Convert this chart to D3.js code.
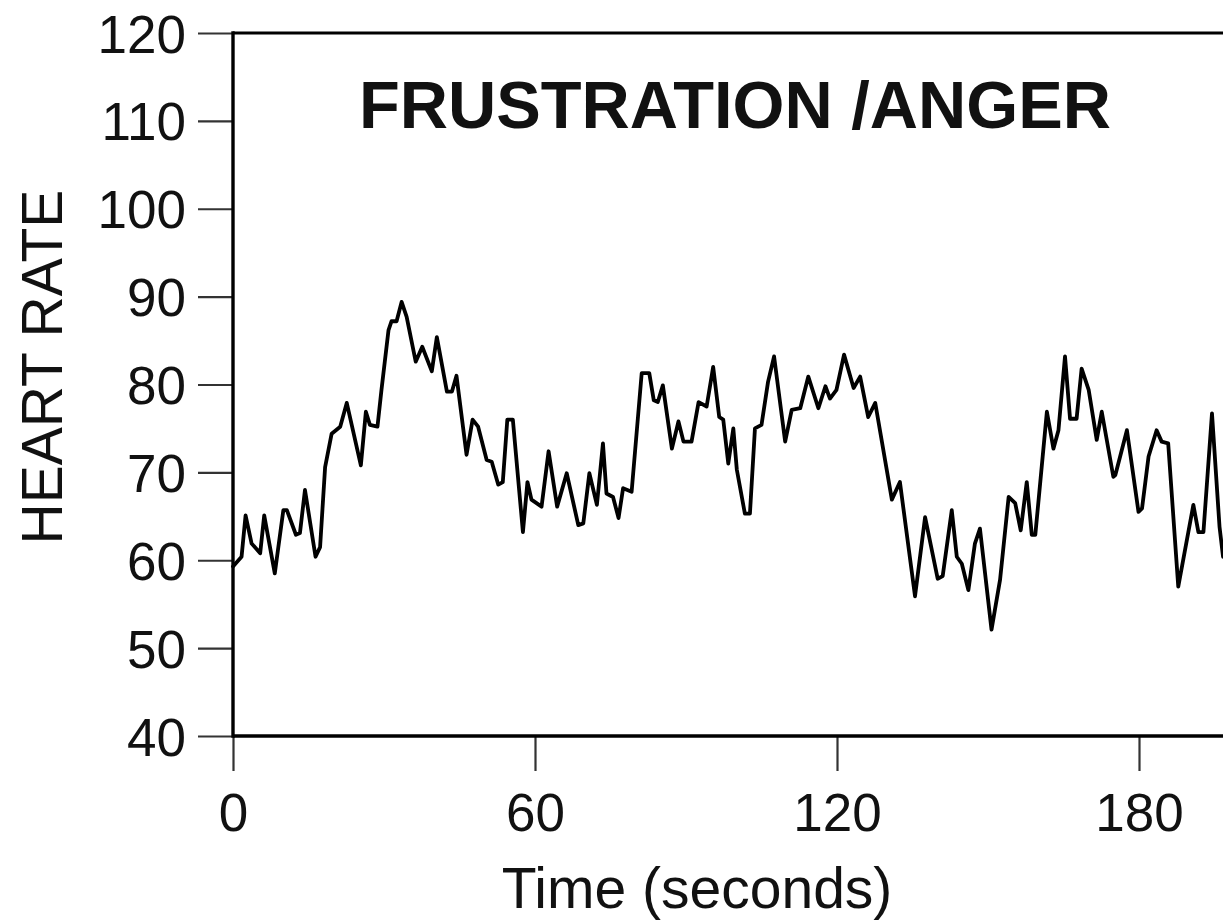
<!DOCTYPE html>
<html>
<head>
<meta charset="utf-8">
<script src="https://cdn.jsdelivr.net/npm/d3@7"></script>
<style>
  html, body { margin: 0; padding: 0; background: #fff; }
  svg { display: block; font-family: "Liberation Sans", Arial, Helvetica, sans-serif; }
</style>
</head>
<body>
<svg id="chart" width="1223" height="921"></svg>
<script>
// ---- data ----
const timeSeconds = [0, 1.7, 2.5, 3.7, 5.4, 6.2, 8.3, 10, 10.7, 12.5, 13.3, 14.3, 16.4, 17.3, 18.3, 19.6, 21.3, 22.6, 25.4, 26.4, 27.2, 28.7, 29.5, 30.9, 31.5, 32.5, 33.5, 34.5, 36.3, 37.6, 39.5, 40.5, 42.5, 43.5, 44.4, 46.4, 47.6, 48.7, 50.4, 51.4, 52.7, 53.6, 54.5, 55.6, 57.6, 58.5, 59.3, 61.3, 62.7, 64.4, 66.3, 68.6, 69.6, 70.8, 72.3, 73.5, 74.2, 75.5, 76.6, 77.5, 79.2, 81.2, 82.7, 83.6, 84.4, 85.4, 87.2, 88.5, 89.5, 91.1, 92.5, 94.1, 95.4, 96.6, 97.4, 98.4, 99.4, 100.1, 101.7, 102.7, 103.7, 105, 106.3, 107.5, 109.7, 111, 112.7, 114.3, 116.3, 117.7, 118.6, 119.9, 121.4, 123.3, 124.6, 126.2, 127.6, 130.9, 132.5, 135.5, 137.5, 140, 141, 142.8, 143.8, 144.8, 146.1, 147.4, 148.4, 150.7, 152.4, 154.1, 155.4, 156.5, 157.7, 158.7, 159.4, 161.7, 163, 164, 165.3, 166.3, 167.6, 168.6, 170, 171.6, 172.6, 174.9, 175.3, 177.6, 179.9, 180.6, 181.9, 183.5, 184.5, 185.8, 187.8, 190.8, 191.8, 192.8, 194.5, 196, 196.7];
const heartRate = [59.3, 60.4, 65.1, 61.9, 60.8, 65.1, 58.5, 65.7, 65.7, 62.9, 63.1, 68, 60.4, 61.5, 70.6, 74.4, 75.2, 77.9, 70.8, 76.9, 75.4, 75.2, 79.4, 86.2, 87.2, 87.2, 89.4, 87.7, 82.6, 84.3, 81.5, 85.4, 79.2, 79.2, 81, 72, 76, 75.2, 71.4, 71.2, 68.6, 68.9, 76, 76, 63.2, 68.9, 66.9, 66.1, 72.4, 66.1, 69.9, 64, 64.2, 69.9, 66.3, 73.3, 67.6, 67.2, 64.8, 68.2, 67.8, 81.3, 81.3, 78.2, 78, 79.9, 72.7, 75.8, 73.5, 73.5, 78, 77.5, 82, 76.3, 76, 71, 75, 70.3, 65.3, 65.3, 75, 75.4, 80.3, 83.2, 73.5, 77.1, 77.3, 80.9, 77.3, 79.8, 78.4, 79.4, 83.4, 79.6, 80.9, 76.3, 77.9, 66.9, 68.9, 55.9, 64.9, 57.9, 58.2, 65.7, 60.4, 59.6, 56.6, 61.9, 63.6, 52.1, 57.8, 67.2, 66.5, 63.4, 68.9, 62.9, 62.9, 76.9, 72.7, 74.8, 83.2, 76.1, 76.1, 81.8, 79.4, 73.7, 76.9, 69.5, 69.7, 74.8, 65.5, 65.9, 71.8, 74.8, 73.5, 73.3, 57, 66.3, 63.2, 63.2, 76.7, 63.8, 60.4];
const xTickValues = [0, 60, 120, 180];
const yTickValues = [40, 50, 60, 70, 80, 90, 100, 110, 120];
const titleText = "FRUSTRATION /ANGER";
const xLabel = "Time (seconds)";
const yLabel = "HEART RATE";

const data = timeSeconds.map((t, i) => ({ t, hr: heartRate[i] }));

const svg = d3.select("#chart");
const plotLeft = 233, plotTop = 33, plotBottom = 736;
const pxPerSec = (1139 - 233) / 180;

const x = d3.scaleLinear().domain([0, 200]).range([plotLeft, plotLeft + 200 * pxPerSec]);
const y = d3.scaleLinear().domain([40, 120]).range([plotBottom, plotTop]);

// Y axis ticks
const yAxis = svg.append("g")
  .attr("transform", `translate(${plotLeft},0)`)
  .call(d3.axisLeft(y).tickValues(yTickValues).tickSize(35).tickPadding(12).tickFormat(d3.format("d")));
yAxis.select(".domain").remove();
yAxis.selectAll(".tick line").attr("stroke", "#333").attr("stroke-width", 2.2);
yAxis.selectAll(".tick text")
  .attr("font-size", 53).attr("fill", "#111").attr("dy", "0.36em")
  .style("font-family", '"Liberation Sans", Arial, sans-serif');

// X axis ticks
const xAxis = svg.append("g")
  .attr("transform", `translate(0,${plotBottom})`)
  .call(d3.axisBottom(x).tickValues(xTickValues).tickSize(35).tickPadding(22).tickFormat(d3.format("d")));
xAxis.select(".domain").remove();
xAxis.selectAll(".tick line").attr("stroke", "#333").attr("stroke-width", 2.2);
xAxis.selectAll(".tick text")
  .attr("font-size", 53).attr("fill", "#111")
  .style("font-family", '"Liberation Sans", Arial, sans-serif');

// Frame: left, top, bottom
svg.append("line").attr("x1", x(0)).attr("x2", x(0)).attr("y1", y(120) - 1.7).attr("y2", y(40) + 1.7)
  .attr("stroke", "#000").attr("stroke-width", 3.4);
svg.append("line").attr("x1", x(0)).attr("x2", x(200)).attr("y1", y(120)).attr("y2", y(120))
  .attr("stroke", "#000").attr("stroke-width", 3.2);
svg.append("line").attr("x1", x(0)).attr("x2", x(200)).attr("y1", y(40)).attr("y2", y(40))
  .attr("stroke", "#000").attr("stroke-width", 3.4);

// Heart rate line
const line = d3.line().x(d => x(d.t)).y(d => y(d.hr)).curve(d3.curveLinear);
svg.append("path").datum(data)
  .attr("d", line)
  .attr("fill", "none")
  .attr("stroke", "#000")
  .attr("stroke-width", 3.8)
  .attr("stroke-linejoin", "round")
  .attr("stroke-linecap", "round");

// Title
svg.append("text")
  .attr("x", 735).attr("y", 128)
  .attr("text-anchor", "middle")
  .attr("font-size", 66).attr("font-weight", "bold").attr("fill", "#111")
  .attr("textLength", 752).attr("lengthAdjust", "spacingAndGlyphs")
  .text(titleText);

// X label
svg.append("text")
  .attr("x", 697).attr("y", 908)
  .attr("text-anchor", "middle")
  .attr("font-size", 57).attr("fill", "#111")
  .text(xLabel);

// Y label
svg.append("text")
  .attr("transform", `translate(62,367) rotate(-90)`)
  .attr("text-anchor", "middle")
  .attr("font-size", 57).attr("fill", "#111")
  .text(yLabel);
</script>
</body>
</html>
